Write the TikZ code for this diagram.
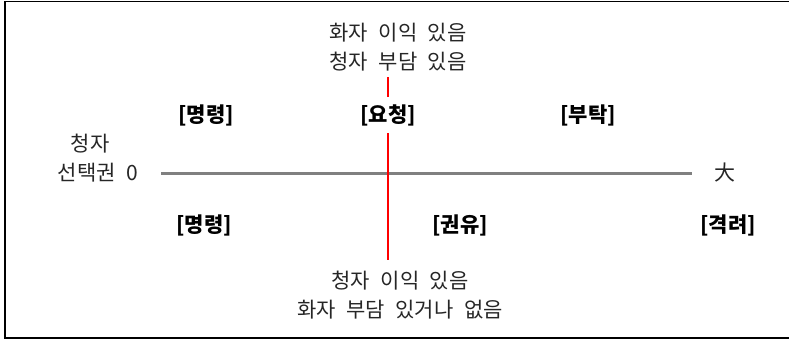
\documentclass[tikz,border=0pt]{standalone}
\usepackage{fontspec}
\setmainfont{Noto Sans CJK KR}
\newcommand{\widesp}{\spaceskip 0.5em\relax}
\begin{document}
\begin{tikzpicture}[x=1pt,y=-1pt,
  plaintext/.style={font=\fontsize{21}{29}\selectfont\widesp, text=black!85, align=center, inner sep=0pt},
  tag/.style={font=\fontsize{21}{25}\selectfont\bfseries, text=black, inner sep=0pt},
  tagcut/.style={tag, fill=white, inner ysep=7pt, inner xsep=2pt},
  frame/.style={draw=black, line width=1.3pt},
  axis/.style={draw=black!50, line width=3pt},
  divider/.style={draw=red, line width=1.2pt}]
\useasboundingbox (0,0) rectangle (789,340);
\draw[frame] (795,1.5) -- (5,1.5) -- (5,338) -- (795,338);
% axis
\coordinate (hl) at (161,173);
\coordinate (hr) at (692,173);
\draw[axis] (hl) -- (hr);
\coordinate (vt) at (388,77);
\coordinate (vb) at (388,260);
\draw[divider] (vt) -- (vb);
% texts
\node[plaintext] (toptext) at (398,47) {화자 이익 있음\\청자 부담 있음};
\node[plaintext] (bottext) at (400,295) {청자 이익 있음\\화자 부담 있거나 없음};
\node[plaintext] (cj) at (90,144) {청자};
\node[plaintext] (zero) at (98,173) {선택권 0};
\node[plaintext] (big) at (725,173) {大};
% labels
\node[tag] (t1) at (206,115) {[명령]};
\node[tagcut] (t2) at (388,115) {[요청]};
\node[tag] (t3) at (588,115) {[부탁]};
\node[tag] (b1) at (204,225) {[명령]};
\node[tag] (b2) at (460,225) {[권유]};
\node[tag] (b3) at (728,225) {[격려]};
\end{tikzpicture}
\end{document}
